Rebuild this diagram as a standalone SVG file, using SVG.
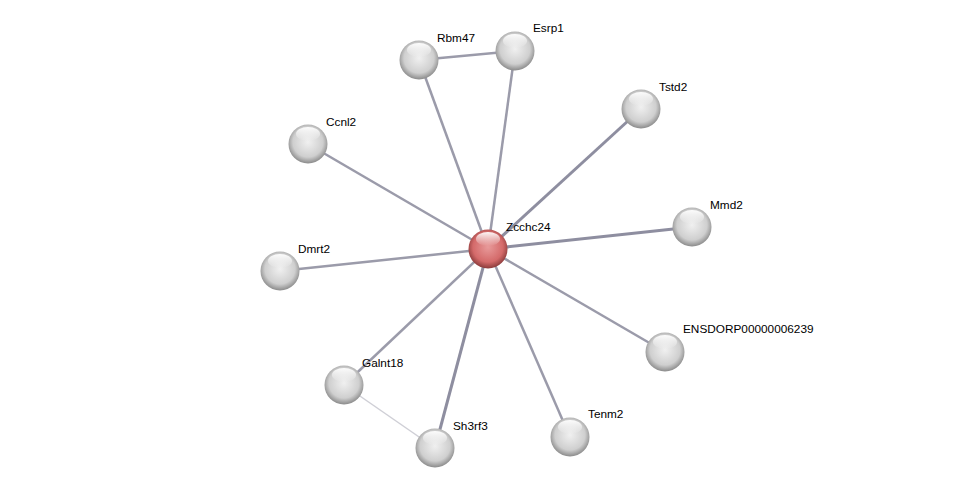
<svg xmlns="http://www.w3.org/2000/svg" width="976" height="493" viewBox="0 0 976 493">
<style>
text{font-family:"Liberation Sans",Arial,sans-serif;font-size:11.8px;fill:#000}
.e{stroke:#9b9baa;stroke-width:2.5;fill:none}
.e2{stroke:#8e8ea0;stroke-width:3}
.e3{stroke:#cfcfd6;stroke-width:1.5}
</style>
<defs>
<radialGradient id="g" cx="0.5" cy="0.45" r="0.55">
<stop offset="0" stop-color="#f0f0f0"/>
<stop offset="0.7" stop-color="#cfcfcf"/>
<stop offset="1" stop-color="#8a8a8a"/>
</radialGradient>
<radialGradient id="r" cx="0.5" cy="0.45" r="0.55">
<stop offset="0" stop-color="#e89a9a"/>
<stop offset="0.7" stop-color="#d46a6a"/>
<stop offset="1" stop-color="#8a3a3a"/>
</radialGradient>
<linearGradient id="h" x1="0" y1="0" x2="0" y2="1">
<stop offset="0" stop-color="#fff" stop-opacity="0.95"/>
<stop offset="1" stop-color="#fff" stop-opacity="0"/>
</linearGradient>
<g id="ball"><circle r="19.5" fill="url(#g)"/><ellipse cx="0" cy="-10" rx="12" ry="7" fill="url(#h)"/></g>
<g id="rball"><circle r="19.5" fill="url(#r)"/><ellipse cx="0" cy="-10" rx="12" ry="7" fill="url(#h)"/></g>
</defs>
<rect width="976" height="493" fill="#fff"/>
<g id="edges">
<line class="e" x1="419" y1="60" x2="515" y2="51"/>
<line class="e3" x1="344" y1="385" x2="435" y2="448"/>
<line class="e" x1="488" y1="249" x2="419" y2="60"/>
<line class="e" x1="488" y1="249" x2="515" y2="51"/>
<line class="e e2" x1="488" y1="249" x2="641" y2="109"/>
<line class="e" x1="488" y1="249" x2="308" y2="144"/>
<line class="e e2" x1="488" y1="249" x2="692" y2="227"/>
<line class="e" x1="488" y1="249" x2="280" y2="271"/>
<line class="e" x1="488" y1="249" x2="665" y2="352"/>
<line class="e" x1="488" y1="249" x2="344" y2="385"/>
<line class="e e2" x1="488" y1="249" x2="435" y2="448"/>
<line class="e" x1="488" y1="249" x2="570" y2="437"/>
</g>
<g id="Rbm47"><use href="#ball" x="419" y="60"/><text x="437" y="42">Rbm47</text></g>
<g id="Esrp1"><use href="#ball" x="515" y="51"/><text x="533" y="32">Esrp1</text></g>
<g id="Tstd2"><use href="#ball" x="641" y="109"/><text x="659" y="91">Tstd2</text></g>
<g id="Ccnl2"><use href="#ball" x="308" y="144"/><text x="326" y="126">Ccnl2</text></g>
<g id="Mmd2"><use href="#ball" x="692" y="227"/><text x="710" y="209">Mmd2</text></g>
<g id="Dmrt2"><use href="#ball" x="280" y="271"/><text x="298" y="253">Dmrt2</text></g>
<g id="ENSDORP00000006239"><use href="#ball" x="665" y="352"/><text x="683" y="333">ENSDORP00000006239</text></g>
<g id="Galnt18"><use href="#ball" x="344" y="385"/><text x="362" y="367">Galnt18</text></g>
<g id="Sh3rf3"><use href="#ball" x="435" y="448"/><text x="453" y="430">Sh3rf3</text></g>
<g id="Tenm2"><use href="#ball" x="570" y="437"/><text x="588" y="418">Tenm2</text></g>
<g id="Zcchc24"><use href="#rball" x="488" y="249"/><text x="506" y="231">Zcchc24</text></g>
</svg>
